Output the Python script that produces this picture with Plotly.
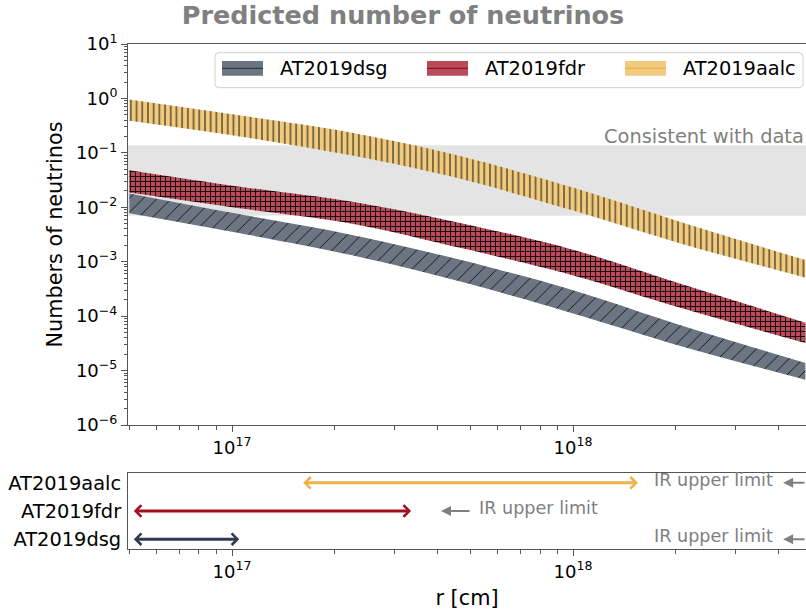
import numpy as np
import plotly.graph_objects as go

# ---------------- data ----------------
R_CM = [5.0e16, 1.0e17, 2.25e17, 4.7e17, 1.0e18, 2.1e18, 4.8e18]

DSG_UPPER = [0.018, 0.0079, 0.0031, 0.00107, 3.0e-4, 6.6e-5, 1.38e-5]
DSG_LOWER = [0.0078, 0.00355, 0.00132, 4.3e-4, 1.12e-4, 2.75e-5, 6.8e-6]

FDR_UPPER = [0.048, 0.025, 0.0126, 0.0051, 0.00166, 3.8e-4, 7.6e-5]
FDR_LOWER = [0.0186, 0.010, 0.0050, 0.00178, 5.6e-4, 1.38e-4, 3.2e-5]

AALC_UPPER = [0.955, 0.51, 0.235, 0.087, 0.023, 0.0052, 0.00107]
AALC_LOWER = [0.39, 0.21, 0.089, 0.033, 0.0087, 0.0021, 0.00051]

CONSISTENT_RANGE = [0.0070, 0.138]

CATEGORIES = ["AT2019dsg", "AT2019fdr", "AT2019aalc"]
RADIUS_LOW = [5.1e16, 5.1e16, 1.6e17]
RADIUS_HIGH = [1.05e17, 3.35e17, 1.55e18]
IR_LIMIT = [4.13e18, 4.1e17, 4.13e18]

Y_TICKS = [1e-6, 1e-5, 1e-4, 1e-3, 1e-2, 1e-1, 1e0, 1e1]
Y_TICK_TEXT = ["10<sup>−6</sup>", "10<sup>−5</sup>", "10<sup>−4</sup>", "10<sup>−3</sup>",
               "10<sup>−2</sup>", "10<sup>−1</sup>", "10<sup>0</sup>", "10<sup>1</sup>"]
X_TICKS = [1e17, 1e18]
X_TICK_TEXT = ["10<sup>17</sup>", "10<sup>18</sup>"]

# ---------------- styles ----------------
FONT = "DejaVu Sans"
LINE_COL = {"AT2019dsg": "#2e3b4e", "AT2019fdr": "#a00f1e", "AT2019aalc": "#ebb348"}
FILL_COL = {"AT2019dsg": "#6c7682", "AT2019fdr": "#b84c5b", "AT2019aalc": "#f1ca7f"}
HATCH = {"AT2019dsg": ("/", "#000000", 10, 0.08),
         "AT2019fdr": ("+", "#120406", 5, 0.33),
         "AT2019aalc": ("|", "#7a6940", 5.7, 0.33)}

W, H = 806, 612
ML, MR, MT, MB = 128, 0, 44, 63
PW, PH = W - ML - MR, H - MT - MB
XRANGE = [16.695, 18.683]


def px(x):
    return (x - ML) / PW


def py(y):
    return (H - MB - y) / PH


fig = go.Figure()

# "consistent with data" band, spanning the whole x axis
span_x = [10 ** (XRANGE[0] - 0.2), 10 ** (XRANGE[1] + 0.2)]
fig.add_trace(go.Scatter(x=span_x, y=[CONSISTENT_RANGE[0]] * 2, mode="lines",
                         line=dict(width=0, color="#e4e4e4"), showlegend=False,
                         hoverinfo="skip", xaxis="x", yaxis="y"))
fig.add_trace(go.Scatter(x=span_x, y=[CONSISTENT_RANGE[1]] * 2, mode="lines",
                         line=dict(width=0, color="#e4e4e4"), fill="tonexty",
                         fillcolor="#e4e4e4", showlegend=False,
                         hoverinfo="skip", xaxis="x", yaxis="y"))

bands = [("AT2019dsg", DSG_LOWER, DSG_UPPER),
         ("AT2019fdr", FDR_LOWER, FDR_UPPER),
         ("AT2019aalc", AALC_LOWER, AALC_UPPER)]

for name, lo, hi in bands:
    shape, fg, size, sol = HATCH[name]
    fig.add_trace(go.Scatter(x=R_CM, y=lo, mode="lines",
                             line=dict(width=0, shape="spline", smoothing=0.9, color=FILL_COL[name]),
                             showlegend=False, hoverinfo="skip", xaxis="x", yaxis="y"))
    fig.add_trace(go.Scatter(x=R_CM, y=hi, mode="lines",
                             line=dict(width=0, shape="spline", smoothing=0.9, color=FILL_COL[name]),
                             fill="tonexty", fillcolor=FILL_COL[name],
                             fillpattern=dict(shape=shape, fgcolor=fg, bgcolor=FILL_COL[name],
                                              size=size, solidity=sol, fillmode="replace"),
                             name=name, showlegend=False, hoverinfo="skip",
                             xaxis="x", yaxis="y"))

# invisible trace to set the categorical axis of the lower panel
fig.add_trace(go.Scatter(x=RADIUS_LOW, y=CATEGORIES, mode="markers",
                         marker=dict(opacity=0), showlegend=False, hoverinfo="skip",
                         xaxis="x2", yaxis="y2"))

shapes = []
annotations = []

annotations.append(dict(xref="paper", yref="y", x=1, y=np.log10(CONSISTENT_RANGE[1]),
                        xanchor="right", yanchor="bottom", yshift=-5, showarrow=False,
                        text="Consistent with data",
                        font=dict(family=FONT, size=19.4, color="#808080")))

# manual legend
x0, x1, y0, y1 = px(215), px(803), py(87.7), py(52.7)
rx, ry = 4 / PW, 4 / PH
path = (f"M {x0+rx},{y0} L {x1-rx},{y0} Q {x1},{y0} {x1},{y0+ry} L {x1},{y1-ry} "
        f"Q {x1},{y1} {x1-rx},{y1} L {x0+rx},{y1} Q {x0},{y1} {x0},{y1-ry} "
        f"L {x0},{y0+ry} Q {x0},{y0} {x0+rx},{y0} Z")
shapes.append(dict(type="path", xref="paper", yref="paper", path=path,
                   fillcolor="rgba(255,255,255,0.85)", line=dict(color="#d0d0d0", width=1)))
leg_items = [("AT2019dsg", 222, 278), ("AT2019fdr", 427, 483), ("AT2019aalc", 625, 681)]
for name, patch_x, text_x in leg_items:
    shapes.append(dict(type="rect", xref="paper", yref="paper",
                       x0=px(patch_x), x1=px(patch_x + 41), y0=py(75.7), y1=py(61),
                       fillcolor=FILL_COL[name], line=dict(width=0)))
    shapes.append(dict(type="line", xref="paper", yref="paper",
                       x0=px(patch_x), x1=px(patch_x + 41), y0=py(68.3), y1=py(68.3),
                       line=dict(color=LINE_COL[name], width=1.3)))
    annotations.append(dict(xref="paper", yref="paper", x=px(text_x), y=py(68.3),
                            xanchor="left", yanchor="middle", showarrow=False, text=name,
                            font=dict(family=FONT, size=19.4, color="black")))

# lower panel: radius ranges and IR limits
for i, name in enumerate(CATEGORIES):
    annotations.append(dict(xref="x2", yref="y2", axref="x2", ayref="y2",
                            x=np.log10(RADIUS_HIGH[i]), y=i,
                            ax=np.log10(RADIUS_LOW[i]), ay=i,
                            text="", showarrow=True, arrowside="end+start",
                            arrowhead=4, startarrowhead=4, arrowsize=0.75, startarrowsize=0.75,
                            arrowwidth=3, arrowcolor=LINE_COL[name]))
    annotations.append(dict(xref="x2", yref="y2", x=np.log10(IR_LIMIT[i]), y=i,
                            ax=30, ay=0, text="", showarrow=True,
                            arrowhead=2, arrowsize=1, arrowwidth=2, arrowcolor="#808080"))
    if name == "AT2019fdr":
        annotations.append(dict(xref="x2", yref="y2", x=np.log10(IR_LIMIT[i]), y=i,
                                xanchor="left", xshift=36, yshift=3, showarrow=False,
                                text="IR upper limit",
                                font=dict(family=FONT, size=17.6, color="#808080")))
    else:
        annotations.append(dict(xref="x2", yref="y2", x=np.log10(IR_LIMIT[i]), y=i,
                                xanchor="right", xshift=-8, yshift=3, showarrow=False,
                                text="IR upper limit",
                                font=dict(family=FONT, size=17.6, color="#808080")))

AX_COL = "#555555"
minor = dict(ticks="outside", ticklen=3.5, tickcolor=AX_COL, tickwidth=1, dtick="D1", showgrid=False)

xaxis_common = dict(type="log", range=XRANGE, tickmode="array", tickvals=X_TICKS,
                    ticktext=X_TICK_TEXT, ticks="outside", ticklen=6, tickwidth=1,
                    tickcolor=AX_COL, showline=True, linecolor=AX_COL, linewidth=1,
                    mirror=True, showgrid=False, zeroline=False, minor=minor,
                    tickfont=dict(family=FONT, size=18, color="black"))

top_dom = [(549 - 425) / PH, 1]
bot_dom = [0, (549 - 473) / PH]

fig.update_layout(
    width=W, height=H,
    margin=dict(l=ML, r=MR, t=MT, b=MB, pad=0),
    paper_bgcolor="white", plot_bgcolor="white",
    showlegend=False,
    font=dict(family=FONT, size=18, color="black"),
    title=dict(text="<b>Predicted number of neutrinos</b>", x=0.5, xref="container",
               xanchor="center", y=1 - 15 / H, yref="container", yanchor="middle",
               font=dict(family=FONT, size=25.5, color="#808080")),
    xaxis=dict(anchor="y", **xaxis_common),
    yaxis=dict(domain=top_dom, anchor="x", type="log", range=[-6, 1],
               tickmode="array", tickvals=Y_TICKS, ticktext=Y_TICK_TEXT,
               ticks="outside", ticklen=6,
               tickwidth=1, tickcolor=AX_COL, showline=True, linecolor=AX_COL, linewidth=1,
               mirror=False, showgrid=False, zeroline=False, minor=minor,
               tickfont=dict(family=FONT, size=18, color="black"),
               title=dict(text="Numbers of neutrinos", standoff=7,
                          font=dict(family=FONT, size=20.8, color="black"))),
    xaxis2=dict(anchor="y2", **xaxis_common,
                title=dict(text="r [cm]", standoff=9,
                           font=dict(family=FONT, size=20.8, color="black"))),
    yaxis2=dict(domain=bot_dom, anchor="x2", type="category",
                categoryorder="array", categoryarray=CATEGORIES,
                range=[-0.35, 2.35], showline=True, linecolor=AX_COL, linewidth=1,
                mirror=False, showgrid=False, zeroline=False, ticks="",
                ticklabelstandoff=2,
                tickfont=dict(family=FONT, size=19.4, color="black")),
    shapes=shapes,
    annotations=annotations,
)

fig.write_html("out.html")
